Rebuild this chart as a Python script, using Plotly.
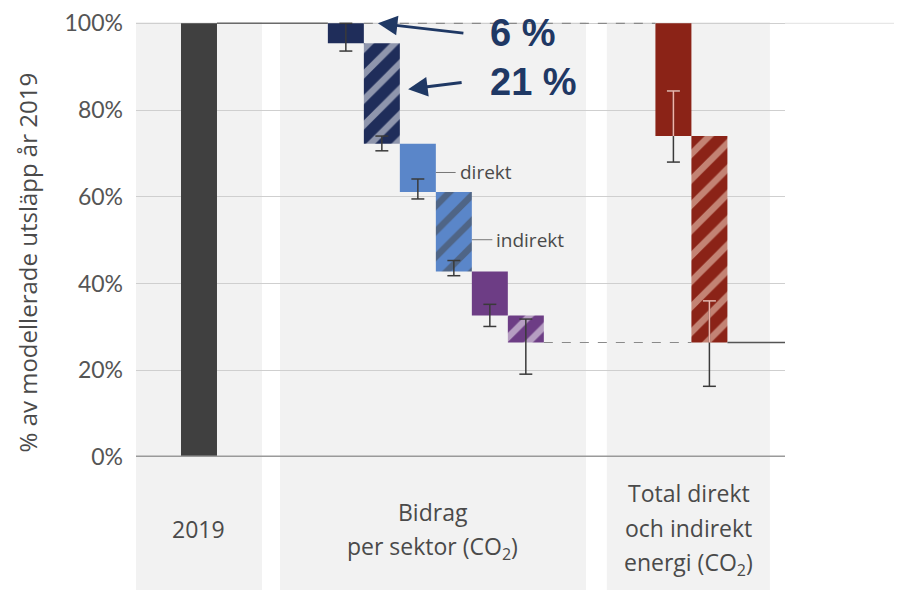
import plotly.graph_objects as go

# 2019 reference level
base_label = "2019"
base_value = 100

# contributions per sector (floating bars, % of 2019 emissions)
sector_top = [100, 95.4, 72.2, 61.1, 42.8, 32.6]
sector_bottom = [95.4, 72.2, 61.1, 42.8, 32.6, 26.4]
sector_err_low = [93.6, 70.6, 59.5, 41.8, 30.1, 19.1]
sector_err_high = [100, 74.0, 64.1, 45.3, 35.2, 31.8]

# total direct + indirect energy CO2
total_top = [100, 74.0]
total_bottom = [74.0, 26.4]
total_err_low = [68.0, 16.3]
total_err_high = [84.4, 36.0]

y_ticks = [0, 20, 40, 60, 80, 100]
y_title = "% av modellerade utsläpp år 2019"

# ---- layout / style ----
X_BASE = 0
X_SECT = [4.08 + i for i in range(6)]
X_TOT = [13.18, 14.18]
XR = [-1.75, 16.28]
CAP = 0.18

NAVY, BLUE, PURPLE, RED = "#1f2d5a", "#5a86c9", "#6d3d85", "#8b2317"
sector_colors = [NAVY, NAVY, BLUE, BLUE, PURPLE, PURPLE]
sector_hatch = ["", "/", "", "/", "", "/"]
sector_stripe = ["#f4f7fc", "#f4f7fc", "#eef4fd", "#eef4fd", "#f3e9f8", "#f3e9f8"]
FONT = "Open Sans"
TXT = "#4a4a4a"


def px(x):
    return (x - XR[0]) / (XR[1] - XR[0])


def errbars(xs, lows, highs):
    xx, yy = [], []
    for x, lo, hi in zip(xs, lows, highs):
        xx += [x, x, None, x - CAP, x + CAP, None, x - CAP, x + CAP, None]
        yy += [lo, hi, None, lo, lo, None, hi, hi, None]
    return xx, yy


fig = go.Figure()

fig.add_trace(go.Bar(x=[X_BASE], y=[base_value], base=0, width=1,
                     marker=dict(color="#404040", line_width=0)))

fig.add_trace(go.Bar(
    x=X_SECT, y=[t - b for t, b in zip(sector_top, sector_bottom)], base=sector_bottom, width=1,
    marker=dict(color=sector_colors, line_width=0,
                pattern=dict(shape=sector_hatch, fgcolor=sector_stripe, size=18, solidity=0.36))))

fig.add_trace(go.Bar(
    x=X_TOT, y=[t - b for t, b in zip(total_top, total_bottom)], base=total_bottom, width=1,
    marker=dict(color=RED, line_width=0,
                pattern=dict(shape=["", "/"], fgcolor="#fbe4d2", size=18, solidity=0.36))))

# connectors
fig.add_trace(go.Scatter(x=[X_BASE + 0.5, X_SECT[0] - 0.5], y=[base_value, base_value],
                         mode="lines", line=dict(color="#6a6a6a", width=1.5)))
fig.add_trace(go.Scatter(x=[X_SECT[0] + 0.5, X_TOT[0] - 0.5], y=[sector_top[0], total_top[0]],
                         mode="lines", line=dict(color="#8a8a8a", width=1.2, dash="dash")))
fig.add_trace(go.Scatter(x=[X_SECT[-1] + 0.5, X_TOT[1] - 0.5], y=[sector_bottom[-1], total_bottom[-1]],
                         mode="lines", line=dict(color="#8a8a8a", width=1.2, dash="dash")))
fig.add_trace(go.Scatter(x=[X_TOT[1] + 0.5, XR[1]], y=[total_bottom[-1], total_bottom[-1]],
                         mode="lines", line=dict(color="#555555", width=1.5)))

# error bars
ex, ey = errbars(X_SECT + X_TOT, sector_err_low + total_err_low, sector_err_high + total_err_high)
fig.add_trace(go.Scatter(x=ex, y=ey, mode="lines", line=dict(color="#3a3a3a", width=1.5)))
# light part of the error bars inside the red bars
lx, ly = [], []
for x, b, hi in zip(X_TOT, total_bottom, total_err_high):
    lx += [x, x, None, x - CAP, x + CAP, None]
    ly += [b, hi, None, hi, hi, None]
fig.add_trace(go.Scatter(x=lx, y=ly, mode="lines", line=dict(color="#f2b3a8", width=1.5)))

# direkt / indirekt leaders
fig.add_trace(go.Scatter(x=[X_SECT[2] + 0.5, X_SECT[2] + 1.05, None, X_SECT[3] + 0.5, X_SECT[3] + 1.07],
                         y=[65.6, 65.6, None, 50.1, 50.1], mode="lines",
                         line=dict(color="#777777", width=1)))

shapes = []
panels = [(-1.75, 1.75), (2.25, 10.75), (11.33, 15.86)]
for a, b in panels:
    shapes.append(dict(type="rect", xref="paper", yref="paper", x0=px(a), x1=px(b), y0=-0.34, y1=1,
                       fillcolor="#f2f2f2", line_width=0, layer="below"))
shapes.append(dict(type="line", xref="paper", yref="y", x0=0, x1=1, y0=0, y1=0,
                   line=dict(color="#9a9a9a", width=3), layer="above"))
shapes.append(dict(type="line", xref="paper", yref="y", x0=1, x1=1.2, y0=100, y1=100,
                   line=dict(color="#e2e2e2", width=1), layer="below"))

ann = []
ann.append(dict(xref="paper", yref="paper", x=-0.196, y=0.448, text=y_title, textangle=-90,
                showarrow=False, font=dict(family=FONT, size=24, color=TXT)))
ann.append(dict(x=X_SECT[2] + 1.12, y=65.6, text="direkt", xanchor="left", showarrow=False,
                font=dict(family=FONT, size=19, color=TXT)))
ann.append(dict(x=X_SECT[3] + 1.12, y=50.1, text="indirekt", xanchor="left", showarrow=False,
                font=dict(family=FONT, size=19, color=TXT)))

cat_lines = [
    (X_BASE, -0.166, base_label),
    (6.5, -0.126, "Bidrag"),
    (6.5, -0.207, "per sektor (CO<sub>2</sub>)"),
    (13.6, -0.083, "Total direkt"),
    (13.6, -0.163, "och indirekt"),
    (13.6, -0.244, "energi (CO<sub>2</sub>)"),
]
for x, y, t in cat_lines:
    ann.append(dict(x=x, xref="x", y=y, yref="paper", yanchor="middle", text=t, showarrow=False,
                    font=dict(family=FONT, size=23, color=TXT)))

# highlighted shares with arrows
ann.append(dict(x=4.97, y=100, ax=87, ay=10, text="", showarrow=True, arrowhead=2,
                arrowsize=1.3, arrowwidth=3, arrowcolor="#1f3864"))
ann.append(dict(x=5.81, y=84.8, ax=55, ay=-7, text="", showarrow=True, arrowhead=2,
                arrowsize=1.3, arrowwidth=3, arrowcolor="#1f3864"))
ann.append(dict(x=8.03, y=97.8, text="<b>6 %</b>", xanchor="left", showarrow=False,
                font=dict(family="Liberation Sans", size=38, color="#1f3864")))
ann.append(dict(x=8.03, y=86.4, text="<b>21 %</b>", xanchor="left", showarrow=False,
                font=dict(family="Liberation Sans", size=38, color="#1f3864")))

fig.update_layout(
    width=902, height=590,
    margin=dict(l=128, r=125, t=14, b=141),
    paper_bgcolor="white", plot_bgcolor="rgba(0,0,0,0)",
    barmode="overlay", showlegend=False,
    shapes=shapes, annotations=ann,
    xaxis=dict(range=XR, visible=False),
    yaxis=dict(range=[0, 100.3], tickvals=y_ticks, ticktext=[f"{v}%" for v in y_ticks],
               showgrid=True, gridcolor="#cfcfcf", gridwidth=1, zeroline=False, showline=False,
               ticks="", ticklabelstandoff=12, automargin=False, ticklabeloverflow="allow",
               tickfont=dict(family="Lato", size=23, color="#555555")),
)

fig.write_html("out.html")
